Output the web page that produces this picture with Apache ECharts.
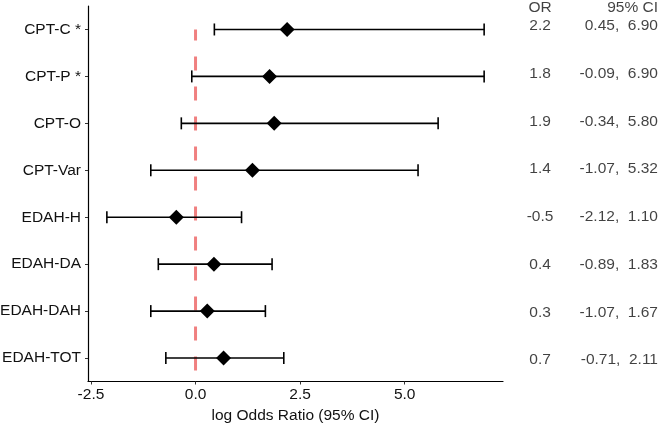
<!DOCTYPE html>
<html>
<head>
<meta charset="utf-8">
<script src="https://cdn.jsdelivr.net/npm/echarts@6/dist/echarts.min.js"></script>
<style>html,body{margin:0;padding:0;background:#fff}#c{width:660px;height:423px}</style>
</head>
<body>
<div id="c"></div>
<script>
var categories = ['CPT-C *','CPT-P *','CPT-O','CPT-Var','EDAH-H','EDAH-DA','EDAH-DAH','EDAH-TOT'];
var estimate = [2.19, 1.77, 1.88, 1.36, -0.46, 0.44, 0.28, 0.67];
var lower = [0.45, -0.09, -0.34, -1.07, -2.12, -0.89, -1.07, -0.71];
var upper = [6.90, 6.90, 5.80, 5.32, 1.10, 1.83, 1.67, 2.11];
var xTicks = [-2.5, 0, 2.5, 5];
var refValue = 0;
var tableHeaders = ['OR', '95% CI'];

var FONT = '"Liberation Sans", Arial, sans-serif';
var TXT = '#111';

var errData = categories.map(function (c, i) { return [lower[i], upper[i], i]; });
var ptData = categories.map(function (c, i) { return [estimate[i], i]; });
var orData = categories.map(function (c, i) { return { value: [0.226, i + 0.5], txt: estimate[i].toFixed(1) }; });
var ciData = categories.map(function (c, i) { return { value: [0.987, i + 0.5], txt: lower[i].toFixed(2) + ',  ' + upper[i].toFixed(2) }; });
orData.push({ value: [0.226, 0.1], txt: tableHeaders[0], label: { offset: [0, 0] } });
ciData.push({ value: [0.987, 0.1], txt: tableHeaders[1], label: { offset: [0, 0] } });

var chart = echarts.init(document.getElementById('c'), null, { renderer: 'canvas' });
chart.setOption({
  animation: false,
  backgroundColor: '#fff',
  grid: [
    { left: 88, right: 157, top: 6, bottom: 41.5, outerBoundsMode: 'none', containLabel: false },
    { left: 505, right: 0, top: 3, bottom: 38, outerBoundsMode: 'none', containLabel: false }
  ],
  xAxis: [{
    type: 'value', gridIndex: 0, min: -2.571, max: 7.351,
    splitLine: { show: false },
    axisLine: { show: true, onZero: false, lineStyle: { color: '#000', width: 1.2 } },
    axisTick: { show: true, length: 3, lineStyle: { color: '#333', width: 1 },
      customValues: xTicks },
    axisLabel: { customValues: xTicks, color: TXT, fontSize: 15.5, fontFamily: FONT, margin: 5,
      formatter: function (v) { return v.toFixed(1); } },
    name: 'log Odds Ratio (95% CI)', nameLocation: 'middle', nameGap: 24,
    nameTextStyle: { color: TXT, fontSize: 15.5, fontFamily: FONT }
  }, {
    type: 'value', gridIndex: 1, min: 0, max: 1, show: false
  }],
  yAxis: [{
    type: 'category', gridIndex: 0, data: categories, inverse: true, boundaryGap: true,
    axisLine: { show: true, onZero: false, lineStyle: { color: '#000', width: 1.2 } },
    axisTick: { show: true, alignWithLabel: true, length: 3, lineStyle: { color: '#333', width: 1 } },
    axisLabel: { color: TXT, fontSize: 15.5, fontFamily: FONT, margin: 7 },
    splitLine: { show: false }
  }, {
    type: 'value', gridIndex: 1, min: 0, max: 8, inverse: true, show: false
  }],
  series: [{
    type: 'line', xAxisIndex: 0, yAxisIndex: 0, z: 1,
    data: [[refValue, -0.5], [refValue, 7.5]],
    symbol: 'none', silent: true,
    lineStyle: { color: '#F08080', width: 3, type: [14, 16], dashOffset: 3 }
  }, {
    type: 'custom', xAxisIndex: 0, yAxisIndex: 0, z: 2,
    data: errData,
    renderItem: function (params, api) {
      var a = api.coord([api.value(0), api.value(2)]);
      var b = api.coord([api.value(1), api.value(2)]);
      var h = 6;
      var st = { stroke: '#000', lineWidth: 1.6 };
      return { type: 'group', children: [
        { type: 'line', shape: { x1: a[0], y1: a[1], x2: b[0], y2: b[1] }, style: st },
        { type: 'line', shape: { x1: a[0], y1: a[1] - h, x2: a[0], y2: a[1] + h }, style: st },
        { type: 'line', shape: { x1: b[0], y1: b[1] - h, x2: b[0], y2: b[1] + h }, style: st }
      ] };
    },
    encode: { x: [0, 1], y: 2 }
  }, {
    type: 'scatter', xAxisIndex: 0, yAxisIndex: 0, z: 3,
    data: ptData, symbol: 'diamond', symbolSize: [15, 15],
    itemStyle: { color: '#000', opacity: 1 }
  }, {
    type: 'scatter', xAxisIndex: 1, yAxisIndex: 1, symbolSize: 0, data: orData,
    label: { show: true, position: 'inside', offset: [0, -1], color: TXT, fontSize: 15.5, fontFamily: FONT,
      align: 'center', formatter: function (p) { return p.data.txt; } }
  }, {
    type: 'scatter', xAxisIndex: 1, yAxisIndex: 1, symbolSize: 0, data: ciData,
    label: { show: true, position: 'inside', offset: [0, -1], color: TXT, fontSize: 15.5, fontFamily: FONT,
      align: 'right', formatter: function (p) { return p.data.txt; } }
  }]
});
</script>
</body>
</html>
